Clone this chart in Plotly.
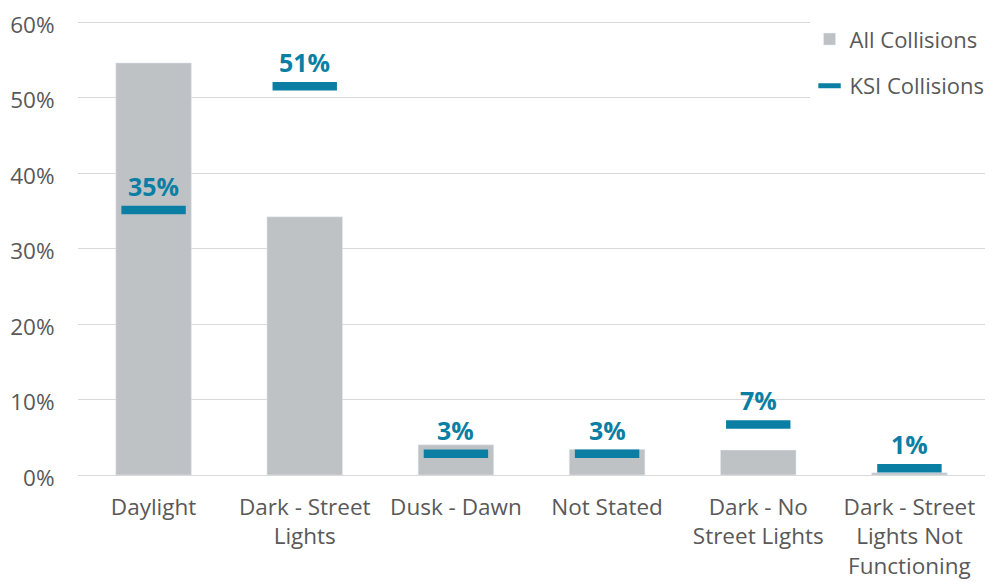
import plotly.graph_objects as go

categories = ["Daylight", "Dark - Street<br>Lights", "Dusk - Dawn", "Not Stated",
              "Dark - No<br>Street Lights", "Dark - Street<br>Lights Not<br>Functioning"]
all_collisions = [0.546, 0.342, 0.040, 0.034, 0.033, 0.003]
ksi_collisions = [0.351, 0.515, 0.028, 0.028, 0.067, 0.009]
ksi_labels = ["35%", "51%", "3%", "3%", "7%", "1%"]
y_ticks = [0, 0.1, 0.2, 0.3, 0.4, 0.5, 0.6]
y_tick_labels = ["0%", "10%", "20%", "30%", "40%", "50%", "60%"]

GRAY = "#bfc2c5"
TEAL = "#0a7fa3"
TEXT = "#595959"
FONT = "Open Sans"

fig = go.Figure()
fig.add_trace(go.Bar(
    x=categories, y=all_collisions, name="All Collisions",
    marker=dict(color=GRAY), width=0.5, legendgroup="a",
))
fig.add_trace(go.Scatter(
    x=categories, y=ksi_collisions, name="KSI Collisions", mode="markers",
    marker=dict(symbol="line-ew-open", size=46, line=dict(color=TEAL, width=8.5), color=TEAL),
    legendgroup="b",
))
for c, v, t in zip(categories, ksi_collisions, ksi_labels):
    fig.add_annotation(x=c, y=v, text="<b>" + t + "</b>", showarrow=False,
                       yshift=24, font=dict(family=FONT, size=25, color=TEAL))

fig.update_layout(
    width=985, height=578,
    margin=dict(l=70, r=8, t=13, b=111, autoexpand=False),
    plot_bgcolor="white", paper_bgcolor="white",
    font=dict(family=FONT, size=22, color=TEXT),
    showlegend=True,
    legend=dict(x=1.005, xanchor="right", y=1.006, yanchor="top",
                bgcolor="white", font=dict(size=22, color=TEXT),
                tracegroupgap=15, traceorder="grouped", itemwidth=30),
    bargap=0.5,
)
fig.update_xaxes(showgrid=False, showline=False, ticks="outside", ticklen=12,
                 tickcolor="rgba(0,0,0,0)", tickfont=dict(size=22.5, color=TEXT),
                 automargin=False)
fig.update_yaxes(range=[0, 0.6015], tickvals=y_ticks, ticktext=y_tick_labels,
                 showgrid=True, gridcolor="#d9d9d9", gridwidth=1.3,
                 zeroline=True, zerolinecolor="#d9d9d9", zerolinewidth=1.3,
                 ticks="outside", ticklen=18, tickcolor="rgba(0,0,0,0)",
                 tickfont=dict(size=22.5, color=TEXT), automargin=False,
                 ticklabeloverflow="allow", ticklabelshift=3)

fig.write_html("out.html")
